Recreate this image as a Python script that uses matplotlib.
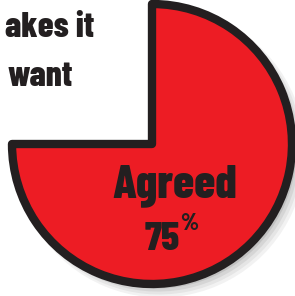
import matplotlib
matplotlib.use('Agg')
import matplotlib.pyplot as plt

# Data
labels = ['Agreed', 'Other']
shares = [75, 25]
value_label = '75'
caption_lines = ['akes it', 'want']

RED = '#ED1C24'
INK = '#231F20'
FONT = ['Barlow Condensed', 'DejaVu Sans']

fig = plt.figure(figsize=(2.95, 2.96), dpi=100)
ax = fig.add_axes([0, 0, 1, 1])

# soft drop shadow under the pie
for i, a in enumerate([0.07, 0.08, 0.10, 0.14]):
    off = 0.06 - i * 0.009
    wedges, _ = ax.pie(shares, startangle=90, counterclock=False, radius=1.0 + 0.012 * (3 - i),
                       center=(off, -off), frame=True,
                       wedgeprops=dict(linewidth=0, edgecolor='none'))
    wedges[0].set_facecolor((0.3, 0.3, 0.3, a))
    wedges[1].set_visible(False)

# main pie
wedges, _ = ax.pie(shares, startangle=90, counterclock=False, radius=1.0, frame=True,
                   wedgeprops=dict(linewidth=6, edgecolor=INK, joinstyle='round'))
wedges[0].set_facecolor(RED)
wedges[1].set_visible(False)

ax.set_xlim(-152 / 140, 143 / 140)
ax.set_ylim(-152 / 140, 144 / 140)
ax.set_aspect('auto')
ax.axis('off')

ax.text(0.164, -0.379, labels[0], ha='center', va='baseline', fontsize=34,
        fontweight=800, color=INK, family=FONT)
ax.text(0.075, -0.757, value_label, ha='center', va='baseline', fontsize=29,
        fontweight=800, color=INK, family=FONT)
ax.text(0.268, -0.57, '%', ha='center', va='center', fontsize=17,
        fontweight=800, color=INK, family=FONT)

ax.text(-1.05, 0.764, caption_lines[0], ha='left', va='baseline', fontsize=25.5,
        fontweight=800, color=INK, family=FONT)
ax.text(-0.567, 0.414, caption_lines[1], ha='right', va='baseline', fontsize=25.5,
        fontweight=800, color=INK, family=FONT)

fig.savefig('out.png', dpi=100, facecolor='white')
